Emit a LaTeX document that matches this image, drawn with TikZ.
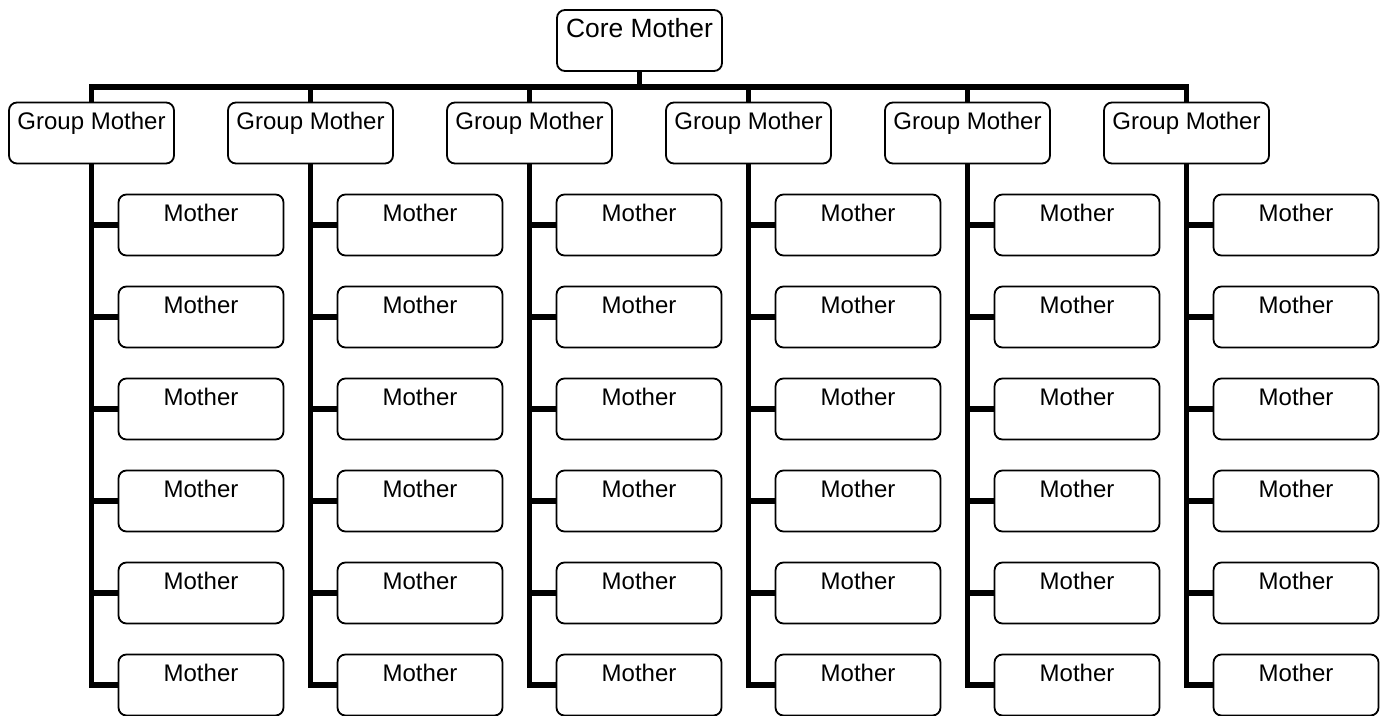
\documentclass[tikz,border=0pt]{standalone}
\usepackage{fontspec}
\setmainfont{Liberation Sans}
\usetikzlibrary{positioning}

\tikzset{
  box/.style={draw,rectangle,rounded corners=4pt,line width=0.9pt,minimum width=82.5pt,inner sep=0pt,text height=13.5pt,text depth=17pt,font=\fontsize{12}{14}\selectfont},
  link/.style={line width=2.8pt}
}

\begin{document}
\begin{tikzpicture}[x=0.5pt,y=-0.5pt]
\useasboundingbox (0,0) rectangle (1384,716);

% Core
\node[box,text height=14pt,text depth=16.5pt,font=\fontsize{13.2}{15}\selectfont] (core) at (639.5,40.5) {Core Mother};

% Groups and mothers
\foreach \i in {0,...,5} {
  \node[box] (grp\i) at (91.5+219*\i,133) {Group Mother};
  \foreach \j in {0,...,5} {
    \node[box] (mom\i\j) at (201+219*\i,225+92*\j) {Mother};
  }
}

% Core to groups
\foreach \i in {0,...,5} {
  \draw[link] (core.south) -- ++(0,15) -| (grp\i.north);
}

% Groups to mothers
\foreach \i in {0,...,5} {
  \foreach \j in {0,...,5} {
    \draw[link] (grp\i.south) |- (mom\i\j.west);
  }
}
\end{tikzpicture}
\end{document}
